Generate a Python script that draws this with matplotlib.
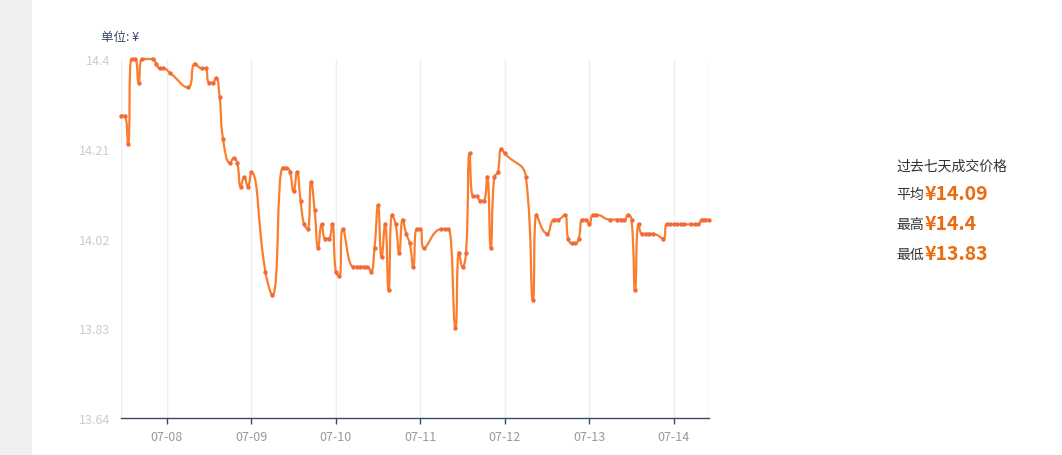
import numpy as np
import pandas as pd
import matplotlib
matplotlib.use('Agg')
from matplotlib import pyplot as plt
import matplotlib.dates as mdates
from matplotlib.path import Path
from matplotlib.patches import PathPatch, Rectangle

plt.rcParams['font.family'] = ['Noto Sans CJK SC', 'DejaVu Sans']

# hours counted from 07-07 00:00, one price per recorded hour
hours = [11, 12, 13, 14, 15, 16, 17, 20, 21, 22, 23, 25, 30, 32, 34, 35, 36, 37, 38, 39,
         40, 42, 43, 44, 45, 46, 47, 48, 52, 54, 57, 58, 59, 60, 61, 62, 63, 64, 65, 66,
         67, 68, 69, 70, 71, 72, 73, 74, 77, 78, 79, 80, 81, 82, 83, 84, 85, 86, 87, 88,
         89, 90, 91, 92, 93, 94, 95, 96, 97, 102, 103, 104, 106, 107, 108, 109, 110, 111, 112, 113,
         114, 115, 116, 117, 118, 119, 120, 126, 128, 129, 132, 134, 135, 137, 138, 139, 140, 141, 142, 143,
         144, 145, 146, 150, 152, 153, 154, 155, 156, 157, 158, 159, 160, 161, 162, 165, 166, 167, 168, 169,
         170, 171, 173, 174, 175, 176, 177, 178]
prices = [14.28, 14.28, 14.22, 14.40, 14.40, 14.35, 14.40, 14.40, 14.39, 14.38, 14.38, 14.37, 14.34, 14.39, 14.38, 14.38, 14.35, 14.35, 14.36, 14.32,
          14.23, 14.18, 14.19, 14.18, 14.13, 14.15, 14.13, 14.16, 13.95, 13.90, 14.17, 14.17, 14.16, 14.12, 14.16, 14.10, 14.05, 14.04, 14.14, 14.08,
          14.00, 14.05, 14.02, 14.02, 14.05, 13.95, 13.94, 14.04, 13.96, 13.96, 13.96, 13.96, 13.96, 13.95, 14.00, 14.09, 13.98, 14.05, 13.91, 14.07,
          14.05, 13.99, 14.06, 14.03, 14.01, 13.96, 14.04, 14.04, 14.00, 14.04, 14.04, 14.04, 13.83, 13.99, 13.96, 13.99, 14.20, 14.11, 14.11, 14.10,
          14.10, 14.15, 14.00, 14.15, 14.16, 14.21, 14.20, 14.15, 13.89, 14.07, 14.03, 14.06, 14.06, 14.07, 14.02, 14.01, 14.01, 14.02, 14.06, 14.06,
          14.05, 14.07, 14.07, 14.06, 14.06, 14.06, 14.06, 14.07, 14.06, 13.91, 14.05, 14.03, 14.03, 14.03, 14.03, 14.02, 14.05, 14.05, 14.05, 14.05,
          14.05, 14.05, 14.05, 14.05, 14.05, 14.06, 14.06, 14.06]

y_ticks = [13.64, 13.83, 14.02, 14.21, 14.4]
y_tick_labels = ['13.64', '13.83', '14.02', '14.21', '14.4']
day_ticks = ['2024-07-08', '2024-07-09', '2024-07-10', '2024-07-11', '2024-07-12', '2024-07-13', '2024-07-14']

summary_title = '过去七天成交价格'
summary_rows = [('平均', '¥14.09'), ('最高', '¥14.4'), ('最低', '¥13.83')]
unit_label = '单位: ¥'

line_color = '#fc7d2c'
dot_color = '#ef6b3b'
navy = '#3c4869'
orange = '#eb6a0c'

times = pd.Timestamp('2024-07-07') + pd.to_timedelta(hours, unit='h')
xs = mdates.date2num(times.to_pydatetime())
ys = np.array(prices)

W, H = 1062, 456
fig = plt.figure(figsize=(W / 100, H / 100), dpi=100)
fig.patches.append(Rectangle((0, 0), 32 / W, 1, transform=fig.transFigure,
                             facecolor='#f0f0f0', edgecolor='none', zorder=-1))

ax_l, ax_r, ax_t, ax_b = 121, 709, 60, 419
ax = fig.add_axes([ax_l / W, 1 - ax_b / H, (ax_r - ax_l) / W, (ax_b - ax_t) / H])
ax.set_xlim(xs[0], xs[-1])
ax.set_ylim(13.64, 14.4)

# echarts-style smoothed bezier, worked out in pixel units
sx = (ax_r - ax_l) / (xs[-1] - xs[0])
sy = (ax_b - ax_t) / (14.4 - 13.64)
px = (xs - xs[0]) * sx
py = (ys - 13.64) * sy
smooth = 0.5
n = len(px)
verts = [(px[0], py[0])]
codes = [Path.MOVETO]
cp0 = (px[0], py[0])
for i in range(1, n):
    x, y = px[i], py[i]
    prx, pry = px[i - 1], py[i - 1]
    if i == n - 1:
        cp1 = (x, y)
        ncp0 = (x, y)
    else:
        nx, ny = px[i + 1], py[i + 1]
        vx, vy = nx - prx, ny - pry
        lp = np.hypot(x - prx, y - pry)
        ln = np.hypot(nx - x, ny - y)
        r = ln / (ln + lp)
        ncx = x + vx * smooth * r
        ncy = y + vy * smooth * r
        ncx = max(min(ncx, max(nx, x)), min(nx, x))
        ncy = max(min(ncy, max(ny, y)), min(ny, y))
        vx, vy = ncx - x, ncy - y
        c1x = x - vx * lp / ln
        c1y = y - vy * lp / ln
        c1x = max(min(c1x, max(prx, x)), min(prx, x))
        c1y = max(min(c1y, max(pry, y)), min(pry, y))
        vx, vy = x - c1x, y - c1y
        ncp0 = (x + vx * ln / lp, y + vy * ln / lp)
        cp1 = (c1x, c1y)
    verts += [cp0, cp1, (x, y)]
    codes += [Path.CURVE4] * 3
    cp0 = ncp0
verts = np.array(verts)
verts[:, 0] = verts[:, 0] / sx + xs[0]
verts[:, 1] = verts[:, 1] / sy + 13.64
ax.add_patch(PathPatch(Path(verts, codes), facecolor='none', edgecolor=line_color,
                       linewidth=1.6, zorder=3, clip_on=False))
ax.scatter(xs, ys, s=10, color=dot_color, zorder=4, linewidths=0, clip_on=False)

# axes styling
day_nums = mdates.date2num(pd.to_datetime(day_ticks).to_pydatetime())
ax.set_xticks(day_nums)
ax.xaxis.set_major_formatter(mdates.DateFormatter('%m-%d'))
for d in list(day_nums) + [xs[0], xs[-1]]:
    ax.axvline(d, color='#efefef', linewidth=1, zorder=0)
ax.set_yticks(y_ticks)
ax.set_yticklabels(y_tick_labels)
for s in ['top', 'right', 'left']:
    ax.spines[s].set_visible(False)
ax.spines['bottom'].set_color(navy)
ax.spines['bottom'].set_linewidth(1)
ax.tick_params(axis='x', colors=navy, length=4, width=1, labelcolor='#999999',
               labelsize=9, pad=5)
ax.tick_params(axis='y', length=0, labelcolor='#cccccc', labelsize=9, pad=8)

fig.text(101 / W, 1 - 38 / H, unit_label, color=navy, fontsize=9, va='center', ha='left')

# summary on the right
fig.text(896 / W, 1 - 167 / H, summary_title, color='#333333', fontsize=10, va='center', ha='left')
for k, (label, value) in enumerate(summary_rows):
    yy = 1 - (195 + 30 * k) / H
    fig.text(896 / W, yy, label, color='#333333', fontsize=10, va='center', ha='left')
    fig.text(925 / W, yy, value, color=orange, fontsize=14, fontweight='bold',
             va='center', ha='left')

fig.savefig('out.png', dpi=100)
